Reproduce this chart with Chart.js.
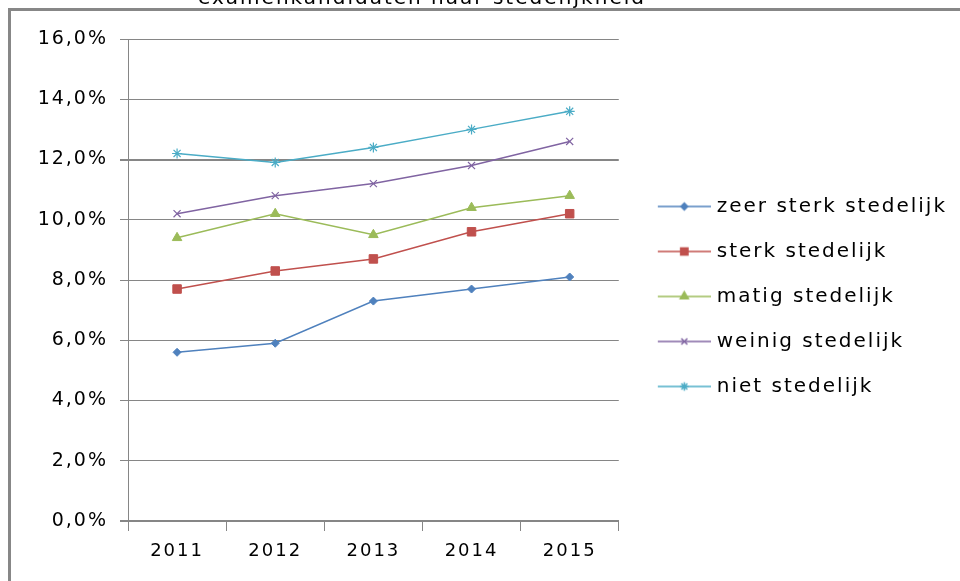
<!DOCTYPE html>
<html>
<head>
<meta charset="utf-8">
<script src="https://cdn.jsdelivr.net/npm/chart.js@4.4.1/dist/chart.umd.min.js"></script>
<style>
    html, body { margin: 0; padding: 0; background: #fff; overflow: hidden; }
    #frame {
        position: absolute; left: 8px; top: 8px; width: 2000px; height: 2000px;
        border-left: 3px solid #878787; border-top: 3px solid #878787;
    }
    #wrap { position: absolute; left: 0; top: 0; width: 960px; height: 581px; }
</style>
</head>
<body>
<div id="frame"></div>
<div id="wrap"><canvas id="lineChart"></canvas></div>
<script>
// Values (percentages)
const years = ['2011', '2012', '2013', '2014', '2015'];
const zeerSterk = [5.6, 5.9, 7.3, 7.7, 8.1];
const sterk = [7.7, 8.3, 8.7, 9.6, 10.2];
const matig = [9.4, 10.2, 9.5, 10.4, 10.8];
const weinig = [10.2, 10.8, 11.2, 11.8, 12.6];
const niet = [12.2, 11.9, 12.4, 13.0, 13.6];

const seriesNames = ['zeer sterk stedelijk', 'sterk stedelijk', 'matig stedelijk', 'weinig stedelijk', 'niet stedelijk'];
const titleText = 'examenkandidaten naar stedelijkheid';

const colors = ['#4F81BD', '#C0504D', '#9BBB59', '#8064A2', '#4BACC6'];
const markers = ['rectRot', 'rect', 'triangle', 'crossRot', 'star'];
const markerSizes = [4, 6, 5.5, 5, 5];

const gridColor = '#868686';

// Legend icons: a short line with the series marker on it
function makeLegendIcon(color, style, radius) {
    const c = document.createElement('canvas');
    c.width = 71;
    c.height = 20;
    const g = c.getContext('2d');
    g.strokeStyle = color;
    g.fillStyle = color;
    g.lineWidth = 1.5;
    g.beginPath();
    g.moveTo(18, 10);
    g.lineTo(71, 10);
    g.stroke();
    Chart.helpers.drawPoint(g, { pointStyle: style, radius: radius * 0.85, rotation: 0, borderWidth: 1.2 }, 44.5, 10);
    return c;
}
const legendIcons = colors.map((c, i) => makeLegendIcon(c, markers[i], markerSizes[i]));

// Letter spacing to get closer to the Verdana look of the original
const spacingPlugin = {
    id: 'spacing',
    beforeUpdate(chart) { chart.ctx.letterSpacing = '2px'; },
    beforeLayout(chart) { chart.ctx.letterSpacing = '2px'; },
    beforeDraw(chart) { chart.ctx.letterSpacing = '2px'; }
};

// Title sits half cut off above the frame, as in the original
const topTitle = {
    id: 'topTitle',
    afterDraw(chart) {
        const ctx = chart.ctx;
        ctx.save();
        ctx.letterSpacing = '2px';
        ctx.font = '20px "DejaVu Sans"';
        ctx.fillStyle = '#000';
        ctx.textAlign = 'center';
        ctx.textBaseline = 'alphabetic';
        ctx.fillText(titleText, 422, 4);
        ctx.restore();
    }
};

const seriesData = [zeerSterk, sterk, matig, weinig, niet];

const datasets = seriesData.map((d, i) => ({
    label: seriesNames[i],
    data: d,
    borderColor: colors[i],
    backgroundColor: colors[i],
    borderWidth: 1.5,
    pointStyle: markers[i],
    pointRadius: markerSizes[i],
    pointBorderWidth: i >= 3 ? 1.2 : 1,
    pointBackgroundColor: colors[i],
    pointBorderColor: colors[i],
    tension: 0
}));

new Chart(document.getElementById('lineChart'), {
    type: 'line',
    data: { labels: years, datasets: datasets },
    plugins: [spacingPlugin, topTitle],
    options: {
        responsive: true,
        maintainAspectRatio: false,
        animation: false,
        layout: { padding: { top: 39, bottom: 27, left: 0, right: 3 } },
        plugins: {
            title: { display: false },
            tooltip: { enabled: false },
            legend: {
                position: 'right',
                maxWidth: 400,
                labels: {
                    usePointStyle: true,
                    pointStyleWidth: 63,
                    padding: 25,
                    color: '#000',
                    font: { family: '"DejaVu Sans"', size: 20 },
                    generateLabels(chart) {
                        const items = Chart.defaults.plugins.legend.labels.generateLabels(chart);
                        items.forEach((it, i) => { it.pointStyle = legendIcons[i]; });
                        return items;
                    }
                }
            }
        },
        scales: {
            x: {
                offset: true,
                grid: {
                    offset: true,
                    drawOnChartArea: false,
                    drawTicks: true,
                    tickLength: 10,
                    color: gridColor
                },
                border: { display: true, color: gridColor, width: 2 },
                ticks: {
                    color: '#000',
                    padding: 10,
                    maxRotation: 0,
                    font: { family: '"DejaVu Sans"', size: 18 }
                },
                afterFit(scale) {
                    scale.height = 33;
                    // the year labels hang below the shortened axis box, so do not clip them
                    scale._computeLabelArea = () => undefined;
                }
            },
            y: {
                min: 0,
                max: 16,
                grid: {
                    color: gridColor,
                    tickLength: 8,
                    lineWidth: ctx => (ctx.tick && (ctx.tick.value === 12 || ctx.tick.value === 0)) ? 2 : 1
                },
                border: { display: true, color: gridColor, width: 1 },
                ticks: {
                    stepSize: 2,
                    color: '#000',
                    padding: 12,
                    font: { family: '"DejaVu Sans"', size: 19 },
                    callback: v => v.toFixed(1).replace('.', ',') + '%'
                },
                afterFit(scale) { scale.width = 128; }
            }
        }
    }
});
</script>
</body>
</html>
